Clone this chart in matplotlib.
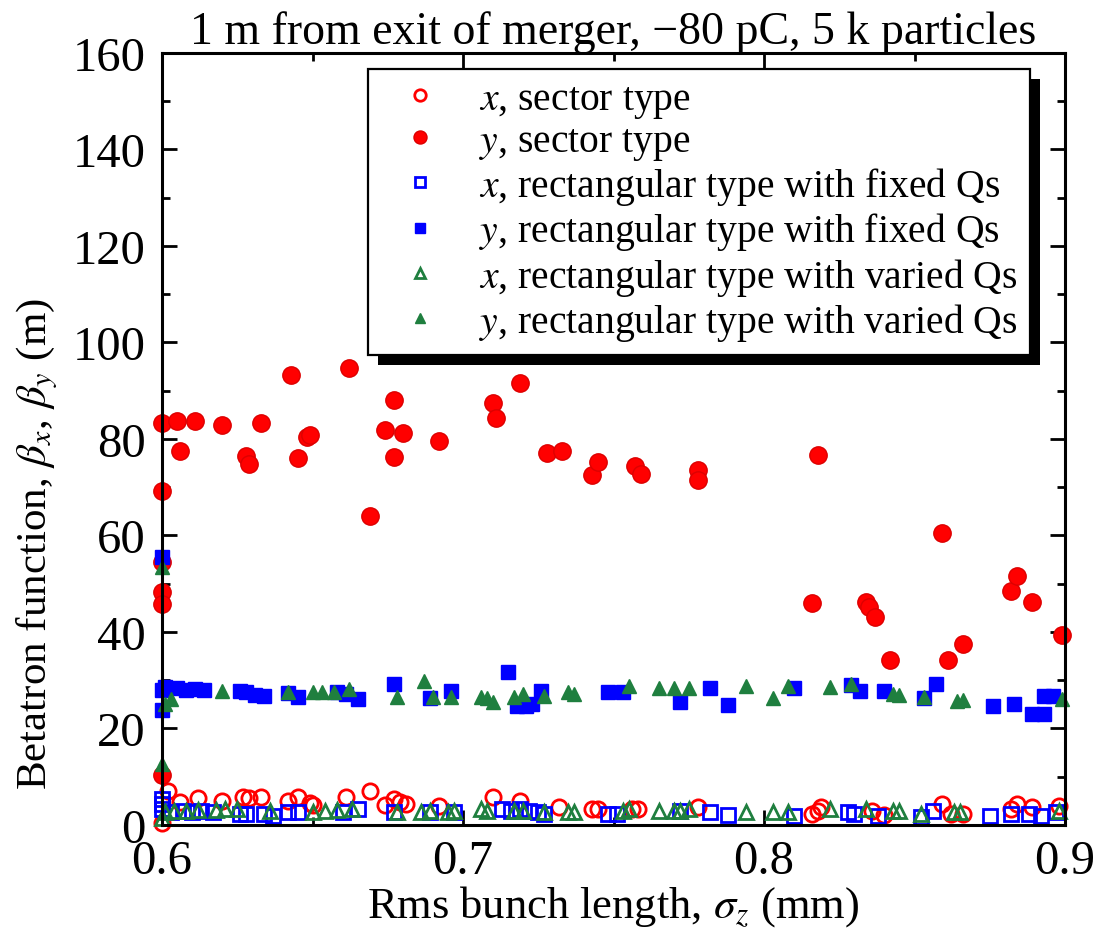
import matplotlib
matplotlib.use("Agg")
import matplotlib.pyplot as plt
from matplotlib.patches import Rectangle
from matplotlib.ticker import MultipleLocator

plt.rcParams['font.family'] = ['Liberation Serif', 'DejaVu Serif']
plt.rcParams['mathtext.fontset'] = 'stix'

# x, sector type
sx_x = [0.600, 0.602, 0.606, 0.612, 0.620, 0.627, 0.629, 0.633, 0.642, 0.645,
        0.649, 0.650, 0.661, 0.669, 0.674, 0.677, 0.679, 0.681, 0.692, 0.710,
        0.719, 0.732, 0.743, 0.745, 0.756, 0.758, 0.778, 0.816, 0.818, 0.819,
        0.836, 0.840, 0.859, 0.862, 0.866, 0.882, 0.884, 0.889, 0.898]
sx_b = [0.3, 7.0, 4.8, 5.6, 5.0, 5.8, 5.6, 5.8, 5.0, 5.8,
        4.6, 4.2, 5.8, 7.0, 4.2, 5.4, 4.8, 4.4, 3.9, 5.8,
        5.0, 3.7, 3.3, 3.3, 3.3, 3.3, 3.7, 2.3, 2.9, 3.7,
        2.9, 2.0, 4.4, 2.3, 2.3, 3.3, 4.4, 3.7, 3.9]

# y, sector type
sy_x = [0.600, 0.600, 0.600, 0.600, 0.600, 0.600, 0.605, 0.606, 0.611, 0.620,
        0.628, 0.629, 0.633, 0.643, 0.645, 0.648, 0.649, 0.662, 0.669, 0.674,
        0.677, 0.677, 0.680, 0.692, 0.710, 0.711, 0.719, 0.728, 0.733, 0.743,
        0.745, 0.757, 0.759, 0.778, 0.778, 0.816, 0.818, 0.834, 0.835, 0.837,
        0.842, 0.859, 0.861, 0.866, 0.882, 0.884, 0.889, 0.899]
sy_b = [83.3, 69.2, 54.5, 48.3, 45.8, 10.3, 83.7, 77.5, 83.7, 82.9,
        76.5, 74.8, 83.3, 93.3, 76.0, 80.4, 80.8, 94.7, 64.0, 81.9,
        88.1, 76.3, 81.2, 79.6, 87.5, 84.4, 91.6, 77.1, 77.5, 72.5,
        75.2, 74.4, 72.7, 73.6, 71.5, 46.0, 76.7, 46.2, 45.2, 43.1,
        34.2, 60.5, 34.2, 37.5, 48.5, 51.6, 46.2, 39.4]

# x, rectangular type with fixed Qs
fx_x = [0.600, 0.600, 0.600, 0.603, 0.607, 0.610, 0.613, 0.617, 0.626, 0.628,
        0.634, 0.637, 0.642, 0.645, 0.660, 0.665, 0.677, 0.689, 0.697, 0.713,
        0.716, 0.719, 0.722, 0.725, 0.727, 0.748, 0.751, 0.772, 0.782, 0.788,
        0.810, 0.828, 0.830, 0.838, 0.852, 0.856, 0.875, 0.882, 0.888, 0.892,
        0.897]
fx_b = [5.4, 4.4, 3.3, 2.7, 2.9, 2.7, 2.9, 2.7, 2.3, 2.3,
        2.3, 1.9, 2.7, 2.7, 2.7, 3.3, 2.7, 2.7, 2.7, 3.3,
        2.9, 3.3, 2.9, 2.7, 2.3, 2.3, 2.3, 2.9, 2.7, 2.1,
        1.9, 2.7, 2.3, 1.9, 1.7, 2.9, 1.9, 2.3, 2.3, 1.9,
        2.7]

# y, rectangular type with fixed Qs
fy_x = [0.600, 0.600, 0.600, 0.601, 0.605, 0.608, 0.611, 0.614, 0.626, 0.628,
        0.631, 0.634, 0.642, 0.645, 0.658, 0.661, 0.665, 0.677, 0.689, 0.696,
        0.715, 0.718, 0.721, 0.723, 0.726, 0.748, 0.753, 0.772, 0.782, 0.788,
        0.810, 0.829, 0.832, 0.840, 0.853, 0.857, 0.876, 0.883, 0.889, 0.893,
        0.893, 0.896]
fy_b = [55.5, 28.0, 23.8, 28.5, 28.3, 28.0, 28.2, 27.9, 27.8, 27.5,
        27.0, 26.8, 27.3, 26.6, 27.6, 27.2, 26.0, 29.2, 26.3, 27.8,
        31.7, 24.7, 24.7, 25.1, 27.8, 27.5, 27.5, 25.5, 28.4, 24.9,
        28.3, 29.0, 27.8, 27.8, 26.3, 29.2, 24.7, 25.1, 23.0, 23.0,
        26.7, 26.7]

# x, rectangular type with varied Qs
vx_x = [0.600, 0.601, 0.604, 0.608, 0.612, 0.618, 0.621, 0.625, 0.636, 0.650,
        0.654, 0.658, 0.663, 0.678, 0.686, 0.689, 0.695, 0.697, 0.706, 0.708,
        0.717, 0.720, 0.727, 0.735, 0.737, 0.753, 0.755, 0.765, 0.770, 0.772,
        0.775, 0.794, 0.803, 0.808, 0.822, 0.834, 0.843, 0.845, 0.852, 0.863,
        0.865, 0.898]
vx_b = [1.5, 2.7, 2.9, 2.9, 3.1, 3.1, 3.3, 3.3, 2.9, 2.7,
        2.9, 3.1, 3.3, 2.7, 2.7, 2.9, 2.7, 2.9, 3.3, 2.9,
        2.9, 2.9, 2.7, 2.7, 2.7, 2.9, 3.3, 2.9, 2.9, 2.9,
        3.3, 2.7, 2.7, 2.7, 3.3, 3.3, 2.9, 2.9, 2.3, 2.7,
        2.7, 2.9]

# y, rectangular type with varied Qs
vy_x = [0.600, 0.600, 0.601, 0.603, 0.620, 0.642, 0.650, 0.653, 0.657, 0.662,
        0.678, 0.687, 0.690, 0.696, 0.706, 0.708, 0.710, 0.717, 0.720, 0.727,
        0.735, 0.737, 0.755, 0.765, 0.770, 0.775, 0.794, 0.803, 0.808, 0.822,
        0.829, 0.843, 0.845, 0.853, 0.864, 0.866, 0.899]
vy_b = [53.5, 12.6, 25.0, 26.0, 27.8, 27.5, 27.5, 27.5, 27.5, 28.2,
        26.5, 29.8, 26.5, 26.5, 26.5, 26.3, 25.5, 26.5, 27.2, 26.7,
        27.5, 27.2, 28.8, 28.4, 28.4, 28.4, 28.8, 26.3, 28.8, 28.6,
        29.2, 27.2, 27.0, 26.5, 25.7, 25.9, 26.1]

red = '#ff0000'
blue = '#0000ff'
green = '#1f7f3f'

fig = plt.figure(figsize=(10.95, 9.29), dpi=100)
ax = fig.add_axes([0.148, 0.111, 0.8246, 0.831])

kw = dict(linestyle='none', clip_on=False)
ax.plot(sx_x, sx_b, marker='o', ms=11, mfc='none', mec=red, mew=2.0,
        label='$x$, sector type', **kw)
ax.plot(sy_x, sy_b, marker='o', ms=12.5, mfc=red, mec='#dd0000', mew=1.0,
        label='$y$, sector type', **kw)
ax.plot(fx_x, fx_b, marker='s', ms=10, mfc='none', mec=blue, mew=2.0,
        label='$x$, rectangular type with fixed Qs', **kw)
ax.plot(fy_x, fy_b, marker='s', ms=10.5, mfc=blue, mec=blue, mew=1.0,
        label='$y$, rectangular type with fixed Qs', **kw)
ax.plot(vx_x, vx_b, marker='^', ms=10.5, mfc='none', mec=green, mew=2.0,
        label='$x$, rectangular type with varied Qs', **kw)
ax.plot(vy_x, vy_b, marker='^', ms=10.5, mfc=green, mec=green, mew=1.0,
        label='$y$, rectangular type with varied Qs', **kw)

ax.set_xlim(0.6, 0.9)
ax.set_ylim(0, 160)
ax.xaxis.set_major_locator(MultipleLocator(0.1))
ax.xaxis.set_minor_locator(MultipleLocator(0.05))
ax.yaxis.set_major_locator(MultipleLocator(20))
ax.yaxis.set_minor_locator(MultipleLocator(10))
ax.tick_params(which='both', direction='in', top=True, right=True, width=2.0)
ax.tick_params(axis='x', labelsize=35, pad=10)
ax.tick_params(axis='y', labelsize=35, pad=12)
ax.tick_params(which='major', length=11)
ax.tick_params(which='minor', length=6)
for sp in ax.spines.values():
    sp.set_linewidth(2.2)

ax.set_xlabel(r'Rms bunch length, $\sigma_z$ (mm)', fontsize=32, labelpad=0)
ax.set_ylabel(r'Betatron function, $\beta_x$, $\beta_y$ (m)', fontsize=31)
ax.yaxis.set_label_coords(-0.113, 0.365)
ax.set_title('1 m from exit of merger, \u221280 pC, 5 k particles',
             fontsize=33, pad=6)

leg = ax.legend(loc='upper right', bbox_to_anchor=(0.961, 0.979),
                borderaxespad=0, fontsize=28.5, frameon=True, fancybox=False,
                edgecolor='black', framealpha=1, handlelength=2.0,
                handletextpad=0.5, labelspacing=0.08, borderpad=0.3,
                markerscale=0.75)
leg.get_frame().set_linewidth(1.6)
leg.set_zorder(10)

# solid drop shadow under the legend box
fig.canvas.draw()
bb = leg.get_window_extent().transformed(fig.transFigure.inverted())
dx, dy = 10 / 1095, 10 / 929
ax.add_patch(Rectangle((bb.x0 + dx, bb.y0 - dy), bb.width, bb.height,
                       transform=fig.transFigure, facecolor='black',
                       edgecolor='none', zorder=9, clip_on=False))

fig.savefig('out.png', dpi=100)
